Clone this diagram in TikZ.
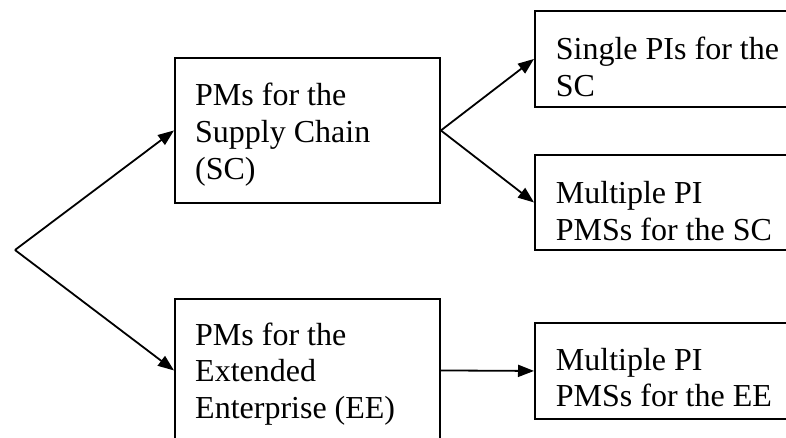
\documentclass[tikz,border=0pt]{standalone}
\usepackage{fontspec}
\setmainfont{Liberation Serif}
\usetikzlibrary{arrows.meta}
\newcommand\mytxtfont{\fontsize{32}{36.8}\selectfont}
\newcommand\myspc{\spaceskip=8pt\relax\xspaceskip=8pt\relax}
\begin{document}
\begin{tikzpicture}[x=1pt,y=-1pt,
  box/.style={draw,line width=1.9pt,rectangle,anchor=north west,inner sep=0pt},
  txt/.style={anchor=base west,inner sep=0pt,text width=320pt,align=left,
    font=\mytxtfont},
  arr/.style={line width=1.8pt,-{Triangle[length=16pt,width=12pt]}}]
\useasboundingbox (0,0) rectangle (786,438);
\clip (0,0) rectangle (786,438);
\node[box,minimum width=265pt,minimum height=145pt] (sc) at (174,57) {};
\node[box,minimum width=265pt,minimum height=143pt] (ee) at (174,298) {};
\node[box,minimum width=280pt,minimum height=96pt] (spi) at (534,10) {};
\node[box,minimum width=280pt,minimum height=95pt] (mpsc) at (534,154) {};
\node[box,minimum width=280pt,minimum height=96pt] (mpee) at (534,322) {};
\node[txt] (tsc) at (195,105.7) {\myspc PMs for the\\Supply Chain\\(SC)};
\node[txt] (tee) at (195,345) {\myspc PMs for the\\Extended\\Enterprise (EE)};
\node[txt] (tspi) at (555.7,59.3) {\myspc Single PIs for the\\SC};
\node[txt] (tmpsc) at (555.7,203.3) {\myspc Multiple PI\\PMSs for the SC};
\node[txt] (tmpee) at (555.7,370) {\myspc Multiple PI\\PMSs for the EE};
\coordinate (apex) at (15,250);
\draw[arr] (apex) -- (sc.west);
\draw[arr] (apex) -- (ee.west);
\draw[arr] (sc.east) -- (spi.west);
\draw[arr] (sc.east) -- (mpsc.west);
\draw[arr] (ee.east) -- (mpee.west);
\end{tikzpicture}
\end{document}
